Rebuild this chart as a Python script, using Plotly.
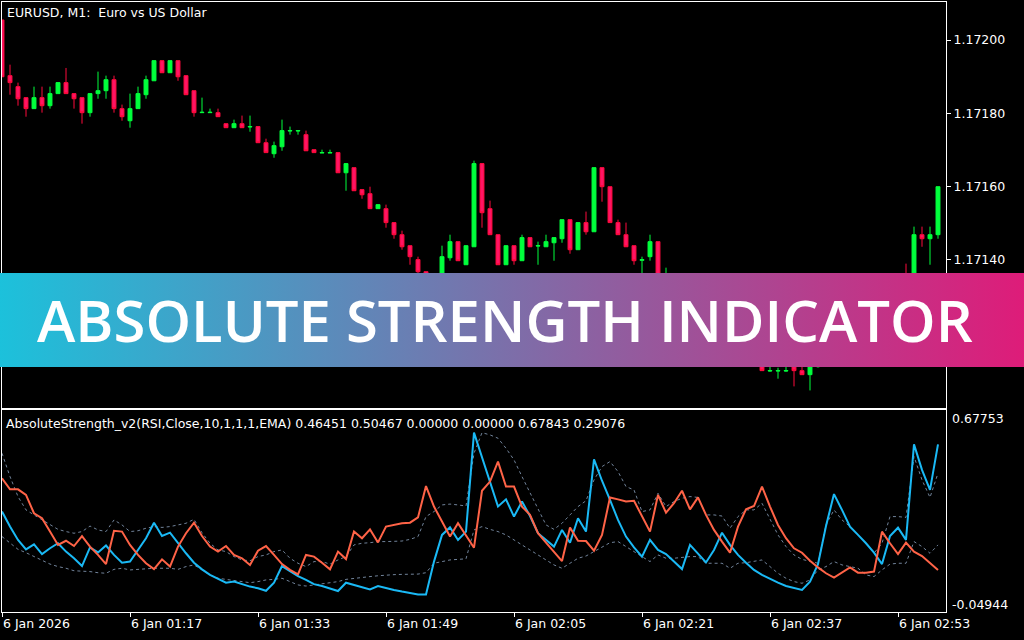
import base64
import pandas as pd
import plotly.graph_objects as go

# EURUSD M1 bars, 6 Jan 2026 01:01 ~ 02:58
times = pd.date_range("2026-01-06 01:01", periods=118, freq="min")

open_ = [1.172055, 1.171903, 1.171873, 1.171843, 1.171813, 1.171843, 1.171821, 1.171854, 1.171884, 1.171854,
         1.171843, 1.171802, 1.171854, 1.171862, 1.171892, 1.171813, 1.171780, 1.171813, 1.171851, 1.171889,
         1.171944, 1.171911, 1.171944, 1.171903, 1.171862, 1.171802, 1.171802, 1.171802, 1.171772, 1.171761,
         1.171772, 1.171763, 1.171764, 1.171720, 1.171690, 1.171709, 1.171752, 1.171752, 1.171742, 1.171701,
         1.171692, 1.171692, 1.171693, 1.171638, 1.171652, 1.171592, 1.171581, 1.171540, 1.171540, 1.171502,
         1.171469, 1.171439, 1.171401, 1.171368, 1.171325, 1.171335, 1.171406, 1.171450, 1.171387, 1.171436,
         1.171663, 1.171540, 1.171469, 1.171387, 1.171439, 1.171398, 1.171461, 1.171438, 1.171436, 1.171447,
         1.171458, 1.171510, 1.171428, 1.171502, 1.171477, 1.171652, 1.171600, 1.171502, 1.171469, 1.171439,
         1.171399, 1.171409, 1.171450, 1.171330, 1.171350, 1.171310, 1.171280, 1.171308, 1.171283, 1.171250,
         1.171220, 1.171252, 1.171215, 1.171180, 1.171150, 1.171132, 1.171097, 1.171097, 1.171097, 1.171109,
         1.171098, 1.171087, 1.171109, 1.171110, 1.171170, 1.171240, 1.171218, 1.171206, 1.171220, 1.171201,
         1.171190, 1.171160, 1.171240, 1.171335, 1.171314, 1.171469, 1.171458, 1.171469]
high = [1.172055, 1.171933, 1.171884, 1.171843, 1.171873, 1.171873, 1.171873, 1.171884, 1.171924, 1.171854,
        1.171843, 1.171854, 1.171914, 1.171903, 1.171903, 1.171824, 1.171854, 1.171873, 1.171903, 1.171944,
        1.171944, 1.171944, 1.171944, 1.171903, 1.171862, 1.171843, 1.171813, 1.171813, 1.171772, 1.171783,
        1.171794, 1.171794, 1.171764, 1.171731, 1.171723, 1.171783, 1.171764, 1.171753, 1.171753, 1.171701,
        1.171701, 1.171701, 1.171693, 1.171663, 1.171652, 1.171592, 1.171600, 1.171551, 1.171551, 1.171502,
        1.171480, 1.171439, 1.171409, 1.171368, 1.171346, 1.171439, 1.171469, 1.171450, 1.171439, 1.171671,
        1.171663, 1.171562, 1.171469, 1.171439, 1.171439, 1.171469, 1.171461, 1.171450, 1.171469, 1.171461,
        1.171510, 1.171510, 1.171502, 1.171532, 1.171652, 1.171652, 1.171600, 1.171510, 1.171502, 1.171439,
        1.171409, 1.171469, 1.171450, 1.171379, 1.171356, 1.171318, 1.171315, 1.171312, 1.171288, 1.171255,
        1.171260, 1.171256, 1.171220, 1.171185, 1.171154, 1.171137, 1.171109, 1.171106, 1.171109, 1.171117,
        1.171109, 1.171128, 1.171125, 1.171175, 1.171245, 1.171252, 1.171226, 1.171233, 1.171230, 1.171212,
        1.171195, 1.171245, 1.171340, 1.171390, 1.171491, 1.171491, 1.171491, 1.171600]
low = [1.171900, 1.171851, 1.171821, 1.171791, 1.171813, 1.171802, 1.171813, 1.171854, 1.171854, 1.171813,
       1.171772, 1.171791, 1.171840, 1.171840, 1.171802, 1.171780, 1.171761, 1.171813, 1.171840, 1.171889,
       1.171911, 1.171911, 1.171889, 1.171851, 1.171791, 1.171802, 1.171802, 1.171791, 1.171761, 1.171761,
       1.171761, 1.171750, 1.171720, 1.171693, 1.171679, 1.171698, 1.171742, 1.171742, 1.171698, 1.171693,
       1.171692, 1.171692, 1.171638, 1.171589, 1.171589, 1.171567, 1.171540, 1.171540, 1.171488, 1.171458,
       1.171428, 1.171387, 1.171360, 1.171314, 1.171305, 1.171330, 1.171398, 1.171398, 1.171387, 1.171436,
       1.171488, 1.171469, 1.171387, 1.171387, 1.171387, 1.171398, 1.171436, 1.171387, 1.171436, 1.171398,
       1.171447, 1.171417, 1.171428, 1.171469, 1.171477, 1.171559, 1.171502, 1.171469, 1.171436, 1.171387,
       1.171360, 1.171398, 1.171319, 1.171320, 1.171305, 1.171275, 1.171274, 1.171276, 1.171245, 1.171214,
       1.171215, 1.171210, 1.171175, 1.171146, 1.171128, 1.171098, 1.171095, 1.171076, 1.171095, 1.171055,
       1.171087, 1.171044, 1.171106, 1.171108, 1.171165, 1.171210, 1.171198, 1.171196, 1.171193, 1.171180,
       1.171155, 1.171158, 1.171235, 1.171303, 1.171308, 1.171436, 1.171387, 1.171458]
close = [1.171900, 1.171884, 1.171840, 1.171813, 1.171843, 1.171821, 1.171854, 1.171884, 1.171854, 1.171840,
         1.171802, 1.171854, 1.171862, 1.171892, 1.171813, 1.171791, 1.171813, 1.171854, 1.171892, 1.171944,
         1.171911, 1.171944, 1.171900, 1.171851, 1.171802, 1.171803, 1.171803, 1.171791, 1.171761, 1.171772,
         1.171761, 1.171764, 1.171720, 1.171693, 1.171712, 1.171753, 1.171753, 1.171753, 1.171698, 1.171693,
         1.171693, 1.171693, 1.171638, 1.171663, 1.171589, 1.171578, 1.171540, 1.171551, 1.171502, 1.171469,
         1.171436, 1.171409, 1.171368, 1.171325, 1.171335, 1.171409, 1.171450, 1.171398, 1.171439, 1.171663,
         1.171529, 1.171469, 1.171387, 1.171439, 1.171398, 1.171461, 1.171436, 1.171439, 1.171450, 1.171461,
         1.171510, 1.171428, 1.171502, 1.171477, 1.171652, 1.171600, 1.171502, 1.171469, 1.171436, 1.171398,
         1.171401, 1.171450, 1.171330, 1.171350, 1.171310, 1.171280, 1.171308, 1.171283, 1.171250, 1.171220,
         1.171252, 1.171215, 1.171180, 1.171150, 1.171132, 1.171098, 1.171098, 1.171098, 1.171098, 1.171098,
         1.171087, 1.171110, 1.171110, 1.171170, 1.171240, 1.171218, 1.171206, 1.171220, 1.171201, 1.171190,
         1.171160, 1.171240, 1.171335, 1.171314, 1.171469, 1.171458, 1.171469, 1.171600]

# AbsoluteStrength_v2 buffers
bulls = [0.312, 0.258, 0.210, 0.176, 0.194, 0.159, 0.180, 0.198, 0.168, 0.144,
         0.116, 0.183, 0.165, 0.190, 0.156, 0.128, 0.132, 0.174, 0.216, 0.272,
         0.224, 0.236, 0.198, 0.162, 0.128, 0.104, 0.084, 0.069, 0.056, 0.060,
         0.051, 0.042, 0.036, 0.027, 0.056, 0.116, 0.098, 0.080, 0.066, 0.051,
         0.044, 0.036, 0.026, 0.056, 0.048, 0.038, 0.032, 0.044, 0.036, 0.030,
         0.024, 0.018, 0.014, 0.014, 0.132, 0.228, 0.255, 0.210, 0.240, 0.596,
         0.510, 0.423, 0.330, 0.356, 0.294, 0.348, 0.296, 0.234, 0.210, 0.186,
         0.246, 0.200, 0.288, 0.240, 0.500, 0.423, 0.354, 0.282, 0.222, 0.183,
         0.150, 0.210, 0.174, 0.159, 0.132, 0.105, 0.192, 0.159, 0.129, 0.174,
         0.236, 0.192, 0.156, 0.128, 0.102, 0.084, 0.069, 0.056, 0.044, 0.038,
         0.030, 0.060, 0.123, 0.260, 0.375, 0.318, 0.258, 0.228, 0.198, 0.164,
         0.123, 0.224, 0.254, 0.210, 0.554, 0.462, 0.390, 0.554]
bears = [0.432, 0.392, 0.392, 0.372, 0.306, 0.288, 0.240, 0.192, 0.207, 0.188,
         0.224, 0.186, 0.156, 0.123, 0.243, 0.240, 0.192, 0.156, 0.126, 0.105,
         0.140, 0.114, 0.186, 0.234, 0.272, 0.224, 0.186, 0.168, 0.188, 0.156,
         0.144, 0.120, 0.171, 0.188, 0.156, 0.123, 0.102, 0.086, 0.156, 0.150,
         0.128, 0.104, 0.168, 0.141, 0.240, 0.216, 0.248, 0.201, 0.258, 0.264,
         0.270, 0.272, 0.291, 0.404, 0.330, 0.276, 0.222, 0.270, 0.224, 0.182,
         0.387, 0.420, 0.492, 0.402, 0.402, 0.330, 0.300, 0.234, 0.200, 0.168,
         0.134, 0.255, 0.207, 0.206, 0.171, 0.228, 0.363, 0.356, 0.348, 0.351,
         0.294, 0.240, 0.372, 0.308, 0.342, 0.387, 0.320, 0.363, 0.300, 0.246,
         0.204, 0.164, 0.258, 0.320, 0.332, 0.402, 0.330, 0.264, 0.216, 0.180,
         0.164, 0.135, 0.111, 0.090, 0.074, 0.092, 0.111, 0.092, 0.092, 0.096,
         0.240, 0.198, 0.159, 0.200, 0.168, 0.152, 0.128, 0.102]
signal_hi = [0.522, 0.438, 0.366, 0.318, 0.300, 0.282, 0.264, 0.248, 0.240, 0.234,
             0.240, 0.260, 0.246, 0.240, 0.282, 0.264, 0.240, 0.243, 0.252, 0.258,
             0.255, 0.258, 0.264, 0.270, 0.284, 0.236, 0.198, 0.174, 0.168, 0.150,
             0.138, 0.135, 0.150, 0.156, 0.168, 0.174, 0.144, 0.126, 0.114, 0.132,
             0.132, 0.123, 0.138, 0.150, 0.192, 0.198, 0.200, 0.204, 0.204, 0.204,
             0.206, 0.212, 0.222, 0.294, 0.312, 0.336, 0.339, 0.336, 0.332, 0.522,
             0.596, 0.588, 0.576, 0.540, 0.498, 0.438, 0.378, 0.318, 0.264, 0.248,
             0.270, 0.300, 0.330, 0.351, 0.426, 0.474, 0.492, 0.456, 0.402, 0.390,
             0.312, 0.318, 0.378, 0.330, 0.348, 0.360, 0.366, 0.363, 0.300, 0.300,
             0.296, 0.252, 0.294, 0.318, 0.318, 0.342, 0.282, 0.228, 0.186, 0.156,
             0.140, 0.132, 0.126, 0.264, 0.318, 0.282, 0.258, 0.228, 0.198, 0.162,
             0.198, 0.294, 0.294, 0.291, 0.510, 0.426, 0.363, 0.450]
signal_lo = [0.222, 0.198, 0.176, 0.164, 0.150, 0.138, 0.123, 0.114, 0.108, 0.099,
             0.098, 0.096, 0.092, 0.090, 0.104, 0.108, 0.102, 0.104, 0.108, 0.108,
             0.108, 0.108, 0.104, 0.114, 0.120, 0.102, 0.084, 0.072, 0.068, 0.066,
             0.060, 0.056, 0.060, 0.066, 0.068, 0.072, 0.060, 0.048, 0.044, 0.048,
             0.052, 0.056, 0.060, 0.068, 0.072, 0.075, 0.078, 0.081, 0.084, 0.085,
             0.086, 0.087, 0.087, 0.092, 0.126, 0.132, 0.138, 0.140, 0.142, 0.246,
             0.258, 0.248, 0.240, 0.228, 0.210, 0.192, 0.176, 0.156, 0.138, 0.120,
             0.108, 0.126, 0.144, 0.152, 0.168, 0.186, 0.200, 0.204, 0.186, 0.168,
             0.150, 0.132, 0.156, 0.144, 0.144, 0.147, 0.150, 0.150, 0.126, 0.126,
             0.126, 0.108, 0.126, 0.128, 0.132, 0.138, 0.114, 0.090, 0.072, 0.060,
             0.054, 0.066, 0.102, 0.114, 0.132, 0.120, 0.114, 0.108, 0.084, 0.078,
             0.102, 0.123, 0.126, 0.126, 0.204, 0.186, 0.162, 0.192]

price_ticks = [1.1714, 1.1716, 1.1718, 1.1720]
time_tick_idx = [0, 16, 32, 48, 64, 80, 96, 112]
time_tick_text = ["6 Jan 2026", "6 Jan 01:17", "6 Jan 01:33", "6 Jan 01:49",
                  "6 Jan 02:05", "6 Jan 02:21", "6 Jan 02:37", "6 Jan 02:53"]

FONT = "DejaVu Sans"
FS = 12.5
WHITE = "#FFFFFF"

fig = go.Figure()

# 캔들
fig.add_trace(go.Candlestick(
    x=times, open=open_, high=high, low=low, close=close,
    increasing=dict(line=dict(color="#00FF3C", width=1), fillcolor="#00FF3C"),
    decreasing=dict(line=dict(color="#FF0A3C", width=1), fillcolor="#FF1464"),
    xaxis="x", yaxis="y", hoverinfo="skip", showlegend=False,
))

# 지표 (시그널 점선 -> 본선)
for s in (signal_hi, signal_lo):
    fig.add_trace(go.Scatter(
        x=times, y=s, mode="lines", xaxis="x2", yaxis="y2",
        line=dict(color="#71839A", width=1, dash="3px,3px"),
        hoverinfo="skip", showlegend=False,
    ))
fig.add_trace(go.Scatter(
    x=times, y=bulls, mode="lines", xaxis="x2", yaxis="y2",
    line=dict(color="#1AB9F5", width=2), hoverinfo="skip", showlegend=False,
))
fig.add_trace(go.Scatter(
    x=times, y=bears, mode="lines", xaxis="x2", yaxis="y2",
    line=dict(color="#FF6347", width=2), hoverinfo="skip", showlegend=False,
))

x_range = ["2026-01-06 01:01:00", "2026-01-06 02:59:00"]
axis_common = dict(showgrid=False, zeroline=False, showline=True, mirror=True,
                   linecolor=WHITE, linewidth=1)

fig.update_layout(
    width=1024, height=640,
    margin=dict(l=2, r=78, t=2, b=28),
    paper_bgcolor="#000000", plot_bgcolor="#000000",
    font=dict(family=FONT, size=FS, color=WHITE),
    xaxis=dict(domain=[0, 1], anchor="y", range=x_range, type="date",
               showticklabels=False, ticks="", rangeslider=dict(visible=False),
               **axis_common),
    yaxis=dict(domain=[0.3344, 1], anchor="x", side="right",
               range=[1.170996, 1.172104],
               tickvals=price_ticks, ticktext=[f"{p:.5f}" for p in price_ticks],
               ticks="outside", ticklen=4, tickcolor=WHITE,
               tickfont=dict(family=FONT, size=FS, color=WHITE),
               **axis_common),
    xaxis2=dict(domain=[0, 1], anchor="y2", range=x_range, type="date",
                tickvals=[times[i] for i in time_tick_idx], ticktext=time_tick_text,
                ticks="outside", ticklen=4, tickcolor=WHITE,
                ticklabelposition="outside right",
                tickfont=dict(family=FONT, size=FS, color=WHITE),
                **axis_common),
    yaxis2=dict(domain=[0, 0.3311], anchor="x2", side="right",
                range=[-0.04944, 0.67753], showticklabels=False, ticks="",
                **axis_common),
)

# 그라디언트 배너
svg = ('<svg xmlns="http://www.w3.org/2000/svg" width="1024" height="94">'
       '<defs><linearGradient id="g" x1="0" y1="0" x2="1" y2="0">'
       '<stop offset="0" stop-color="#1CC1DB"/>'
       '<stop offset="0.5" stop-color="#7D6EA9"/>'
       '<stop offset="1" stop-color="#DE1C79"/>'
       '</linearGradient></defs>'
       '<rect width="1024" height="94" fill="url(#g)"/></svg>')
src = "data:image/svg+xml;base64," + base64.b64encode(svg.encode()).decode()
fig.add_layout_image(dict(
    source=src, xref="paper", yref="paper",
    x=-2 / 944, y=(612 - 273) / 610, sizex=1024 / 944, sizey=94 / 610,
    xanchor="left", yanchor="top", sizing="stretch", layer="above",
))

fig.add_annotation(text="ABSOLUTE STRENGTH INDICATOR", xref="paper", yref="paper",
                   x=(505 - 2) / 944, y=(612 - 319) / 610, showarrow=False,
                   font=dict(family="Open Sans", size=58, color=WHITE, weight=600))

# 텍스트
fig.add_annotation(text="EURUSD, M1:  Euro vs US Dollar", xref="paper", yref="paper",
                   x=0, y=(612 - 13) / 610, xshift=3, xanchor="left", yanchor="middle",
                   showarrow=False, font=dict(family=FONT, size=FS, color=WHITE))
fig.add_annotation(text="AbsoluteStrength_v2(RSI,Close,10,1,1,1,EMA) 0.46451 0.50467 0.00000 0.00000 0.67843 0.29076",
                   xref="paper", yref="paper", x=0, y=(612 - 423) / 610, xshift=2,
                   xanchor="left", yanchor="middle", showarrow=False,
                   font=dict(family=FONT, size=FS, color=WHITE))
fig.add_annotation(text="0.67753", xref="paper", yref="paper", x=1, xshift=4,
                   y=(612 - 418) / 610, xanchor="left", yanchor="middle", showarrow=False,
                   font=dict(family=FONT, size=FS, color=WHITE))
fig.add_annotation(text="-0.04944", xref="paper", yref="paper", x=1, xshift=4,
                   y=(612 - 604) / 610, xanchor="left", yanchor="middle", showarrow=False,
                   font=dict(family=FONT, size=FS, color=WHITE))

# 페이지 기본 여백 제거, 모드바 숨김
fig.write_html("out.html", config={"displayModeBar": False},
               post_script="document.body.style.margin='0px';")
